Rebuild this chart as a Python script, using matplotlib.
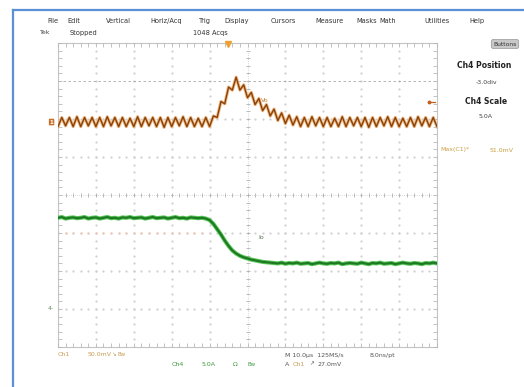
import matplotlib
matplotlib.use("Agg")
import matplotlib.pyplot as plt
from matplotlib.lines import Line2D
import numpy as np

# ---- scope settings ----
ch1_mv_per_div = 50.0
ch4_amp_per_div = 5.0
ch1_pos_div = 1.92      # Ch1 ground marker
ch4_pos_div = -3.0      # "Ch4 Position -3.0div"
trig_level_mv = 27.0
trig_time_us = -5.1

# record, one sample per microsecond from -50 us to +50 us
t_us = np.arange(-50, 51, 1)

ch1_mv = [
    -6, 6, -5, 6, -6, 7, -6, 6, -5, 6,
    -6, 6, -6, 7, -5, 6, -6, 6, -6, 5,
    -6, 7, -6, 6, -5, 6, -6, 6, -7, 6,
    -6, 6, -5, 7, -6, 6, -6, 5, -6, 6,
    -6, 8, 6, 27, 24, 46, 42, 59, 42, 49,
    32, 39, 23, 31, 15, 23, 8, 17, 2, 12,
    -2, 9, -4, 7, -6, 6, -6, 7, -5, 6,
    -6, 6, -6, 5, -6, 7, -6, 6, -5, 6,
    -6, 6, -7, 6, -6, 6, -5, 7, -6, 6,
    -6, 5, -6, 6, -6, 7, -5, 6, -6, 6,
    -6,
]

ch4_amp = [
    12.0, 12.1, 11.9, 12.0, 12.05, 11.95, 12.0, 12.1, 11.9, 12.0,
    12.05, 11.9, 12.0, 12.1, 11.95, 12.0, 11.9, 12.05, 12.0, 12.1,
    11.95, 12.0, 12.05, 11.9, 12.0, 12.1, 11.95, 12.0, 12.05, 11.9,
    12.0, 12.1, 11.95, 12.0, 11.9, 12.05, 12.0, 11.95, 12.0, 11.9,
    11.7, 11.2, 10.5, 9.8, 9.0, 8.3, 7.7, 7.3, 7.0, 6.8,
    6.65, 6.5, 6.4, 6.3, 6.2, 6.15, 6.1, 6.05, 6.0, 6.1,
    5.95, 6.05, 6.0, 6.1, 5.95, 6.0, 6.05, 5.9, 6.0, 6.1,
    6.0, 5.95, 6.05, 6.0, 6.1, 5.9, 6.0, 6.05, 6.0, 5.95,
    6.1, 6.0, 5.9, 6.05, 6.0, 6.1, 5.95, 6.0, 6.05, 5.9,
    6.0, 6.1, 6.0, 5.95, 6.05, 6.0, 5.9, 6.05, 6.0, 6.1,
    6.0,
]

menu = ["File", "Edit", "Vertical", "Horiz/Acq", "Trig", "Display",
        "Cursors", "Measure", "Masks", "Math", "Utilities", "Help"]
menu_x = [53, 74, 118, 166, 205, 237, 283, 329, 367, 388, 437, 477]

W, H = 524, 387


def px(x, y):
    return x / W, 1 - y / H


fig = plt.figure(figsize=(W / 100, H / 100), dpi=100)
fig.patch.set_facecolor("white")

# blue window frame
fig.add_artist(Line2D([13 / W, 13 / W], [0, 1 - 10 / H], color="#5b8fd6", lw=1.6))
fig.add_artist(Line2D([13 / W, 1], [1 - 10 / H, 1 - 10 / H], color="#5b8fd6", lw=1.6))

ax = fig.add_axes([58 / W, 1 - 347 / H, 379 / W, 304 / H])
ax.set_xlim(-50, 50)
ax.set_ylim(-4, 4)
ax.axis("off")

# ---- graticule ----
gcol = "#d2d2d2"
minor_y = np.arange(-4, 4.01, 0.2)
minor_x = np.arange(-50, 50.01, 2)
for gx in range(-40, 50, 10):
    if gx == 0:
        continue
    ax.plot([gx] * len(minor_y), minor_y, ls="none", marker="s", ms=0.6, color=gcol)
for gy in range(-3, 4):
    if gy == 0 or gy == 3:
        continue
    ax.plot(minor_x, [gy] * len(minor_x), ls="none", marker="s", ms=0.6, color=gcol)
ax.plot([-50, 50], [3, 3], color="#a8a8a8", lw=0.6, dashes=(3, 3))
pre = minor_x[minor_x <= -12]
ax.plot(pre, [-1] * len(pre), ls="none", marker="s", ms=0.6, color="#f4c8b4")

# center cross with ticks
ax.plot([0, 0], [-4, 4], color="#b8b8b8", lw=0.5, dashes=(1, 2))
ax.plot([-50, 50], [0, 0], color="#b8b8b8", lw=0.5, dashes=(1, 2))
ax.plot(minor_x, [0] * len(minor_x), ls="none", marker="|", ms=3, mew=0.6, color="#b0b0b0")
ax.plot([0] * len(minor_y), minor_y, ls="none", marker="_", ms=3, mew=0.6, color="#b0b0b0")

# border with inward ticks
for xs, ys in [([-50, 50], [4, 4]), ([-50, 50], [-4, -4]),
               ([-50, -50], [-4, 4]), ([50, 50], [-4, 4])]:
    ax.plot(xs, ys, color="#c4c4c4", lw=0.8, clip_on=False)
ax.plot(minor_x, [3.95] * len(minor_x), ls="none", marker="|", ms=2.5, mew=0.6, color="#b8b8b8")
ax.plot(minor_x, [-3.95] * len(minor_x), ls="none", marker="|", ms=2.5, mew=0.6, color="#b8b8b8")
ax.plot([-49.5] * len(minor_y), minor_y, ls="none", marker="_", ms=2.5, mew=0.6, color="#b8b8b8")
ax.plot([49.5] * len(minor_y), minor_y, ls="none", marker="_", ms=2.5, mew=0.6, color="#b8b8b8")

# ---- traces ----
ch1_div = np.array(ch1_mv) / ch1_mv_per_div + ch1_pos_div
ch4_div = np.array(ch4_amp) / ch4_amp_per_div + ch4_pos_div

ax.plot(t_us, ch1_div, color="#f3b67a", lw=2.3)
ax.plot(t_us, ch1_div, color="#84420f", lw=1.0)

ax.plot(t_us, ch4_div, color="#5ac85a", lw=3.0)
ax.plot(t_us, ch4_div, color="#1e7a22", lw=1.6)

ax.text(3.5, 2.45, "Vo", fontsize=4.5, color="#c07a30")
ax.text(3.0, -1.15, "Io", fontsize=4.5, color="#507050")

# markers
ax.plot([trig_time_us], [3.97], marker="v", ms=4.5, color="#f0a030", clip_on=False)
ax.plot([47.8, 49.5], [trig_level_mv / ch1_mv_per_div + ch1_pos_div] * 2,
        color="#c06020", lw=0.9, clip_on=False)
ax.plot([47.8], [trig_level_mv / ch1_mv_per_div + ch1_pos_div], marker="o", ms=1.8,
        color="#c06020", clip_on=False)
ax.text(-51.2, ch1_pos_div, "1", fontsize=4, color="white", ha="right", va="center",
        fontweight="bold",
        bbox=dict(boxstyle="round,pad=0.15", fc="#c8702a", ec="none"), clip_on=False)
ax.text(-51.0, ch4_pos_div, "4-", fontsize=4.5, color="#6a8a6a", ha="right", va="center",
        clip_on=False)

# ---- screen text ----
for label, mx in zip(menu, menu_x):
    fig.text(*px(mx, 21), label, fontsize=4.8, color="#333333", ha="center", va="center")
fig.text(*px(40, 33), "Tek", fontsize=4.5, color="#444444", va="center")
fig.text(*px(70, 33), "Stopped", fontsize=4.8, color="#333333", va="center")
fig.text(*px(193, 33), "1048 Acqs", fontsize=4.8, color="#333333", va="center")

fig.text(*px(505, 44), "Buttons", fontsize=4.3, color="#333333", ha="center", va="center",
         bbox=dict(boxstyle="round,pad=0.35", fc="#c8c8c8", ec="#999999", lw=0.5))
fig.text(*px(484, 66), "Ch4 Position", fontsize=5.5, fontweight="bold", color="#222222",
         ha="center", va="center")
fig.text(*px(486, 82), "-3.0div", fontsize=4.5, color="#444444", ha="center", va="center")
fig.text(*px(486, 102), "Ch4 Scale", fontsize=5.5, fontweight="bold", color="#222222",
         ha="center", va="center")
fig.text(*px(486, 117), "5.0A", fontsize=4.5, color="#444444", ha="center", va="center")
fig.text(*px(440, 150), "Max(C1)*", fontsize=4.5, color="#c8a040", va="center")
fig.text(*px(490, 150), "51.0mV", fontsize=4.5, color="#c8a040", va="center")

ch1_col = "#c89a50"
ch4_col = "#3a9a3a"
fig.text(*px(58, 355), "Ch1", fontsize=4.5, color=ch1_col, va="center")
fig.text(*px(88, 355), "50.0mV", fontsize=4.5, color=ch1_col, va="center")
fig.text(*px(111, 355), "\u2198", fontsize=4, color=ch1_col, va="center")
fig.text(*px(117, 355), "Bw", fontsize=4, color=ch1_col, va="center")
fig.text(*px(172, 364), "Ch4", fontsize=4.5, color=ch4_col, va="center")
fig.text(*px(202, 364), "5.0A", fontsize=4.5, color=ch4_col, va="center")
fig.text(*px(233, 364), "\u03a9", fontsize=4.5, color=ch4_col, va="center")
fig.text(*px(247, 364), "Bw", fontsize=4, color=ch4_col, va="center")
fig.text(*px(285, 355), "M 10.0\u00b5s  125MS/s", fontsize=4.5, color="#555555", va="center")
fig.text(*px(370, 355), "8.0ns/pt", fontsize=4.5, color="#555555", va="center")
fig.text(*px(285, 364), "A", fontsize=4.5, color="#555555", va="center")
fig.text(*px(293, 364), "Ch1", fontsize=4.5, color=ch1_col, va="center")
fig.text(*px(309, 364), "\u2197", fontsize=4, color="#555555", va="center")
fig.text(*px(318, 364), "27.0mV", fontsize=4.5, color="#555555", va="center")

fig.savefig("out.png", dpi=100, facecolor="white")
